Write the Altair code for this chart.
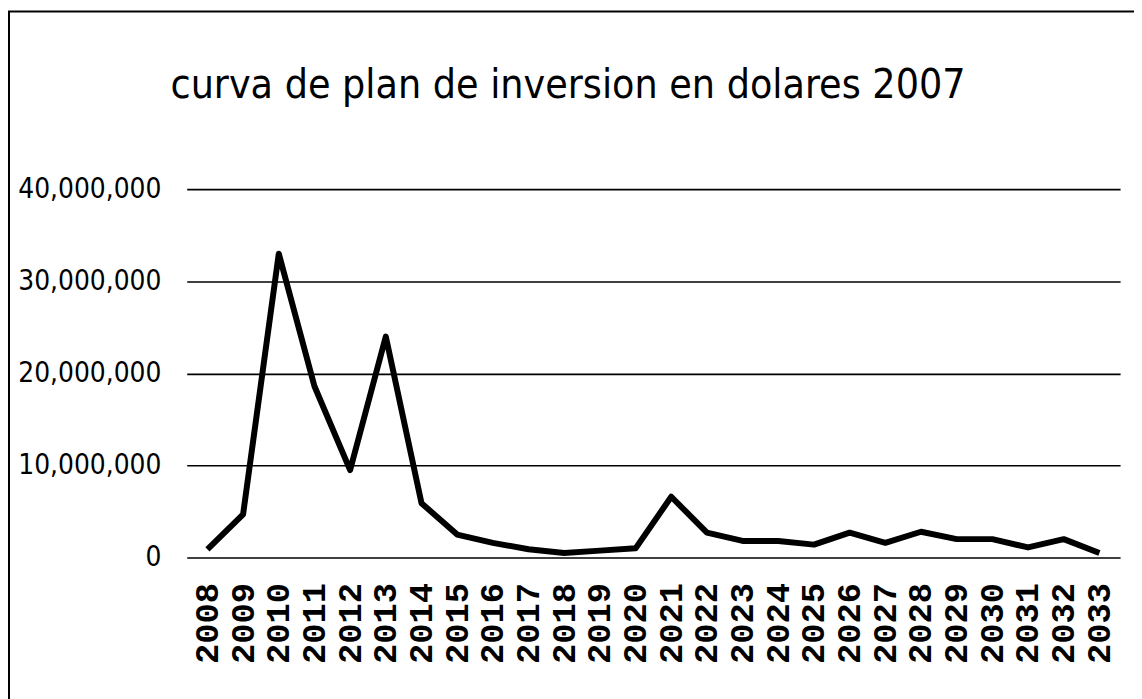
import altair as alt
import pandas as pd

years = [str(y) for y in range(2008, 2034)]
values = [
    900000, 4700000, 33000000, 18600000, 9500000, 24000000, 5900000, 2500000,
    1600000, 900000, 500000, 750000, 1000000, 6600000, 2700000, 1800000,
    1800000, 1400000, 2700000, 1600000, 2800000, 2000000, 2000000, 1100000,
    2000000, 500000,
]
y_ticks = [0, 10000000, 20000000, 30000000, 40000000]
title_text = "curva de plan de inversion en dolares 2007"

df = pd.DataFrame({"year": years, "value": values})
title_df = pd.DataFrame({"t": [title_text]})

W, H = 940, 371
NARROW = "DejaVu Sans Condensed, Liberation Sans Narrow, Roboto, sans-serif"

line = alt.Chart(df).mark_line(color="black", strokeWidth=6, strokeJoin="round").encode(
    x=alt.X("year:N", sort=years,
            scale=alt.Scale(type="point", padding=0.58),
            axis=alt.Axis(title=None, labelAngle=-90, labelFont="Liberation Mono",
                          labelFontWeight="bold", labelFontSize=34, labelColor="black",
                          labelPadding=25, ticks=False, domain=False, grid=False,
                          labelAlign="right", labelBaseline="middle")),
    y=alt.Y("value:Q",
            scale=alt.Scale(domain=[0, 40000000], nice=False),
            axis=alt.Axis(title=None, values=y_ticks, labelExpr="format(datum.value, ',')",
                          labelFont=NARROW, labelFontSize=28, labelColor="black",
                          labelPadding=26, ticks=False, domain=False, grid=True,
                          gridColor="black", gridWidth=1.6, gridOpacity=1)),
)

title_mark = alt.Chart(title_df).mark_text(
    font=NARROW, fontSize=41, color="black", align="center", baseline="alphabetic"
).encode(x=alt.value(384), y=alt.value(-92), text="t:N")

border_left = alt.Chart(title_df).mark_rule(color="black", strokeWidth=2).encode(
    x=alt.value(-179), y=alt.value(-179), y2=alt.value(600)
)
border_top = alt.Chart(title_df).mark_rule(color="black", strokeWidth=2).encode(
    x=alt.value(-190), x2=alt.value(1000), y=alt.value(-179)
)

chart = alt.layer(line, title_mark, border_left, border_top).properties(
    width=W, height=H,
    padding={"left": 180, "top": 180, "right": 14, "bottom": 140},
    autosize=alt.AutoSizeParams(type="none"),
).configure(background="white").configure_view(stroke=None)

chart.save("out.html", embed_options={"renderer": "svg", "actions": False})
